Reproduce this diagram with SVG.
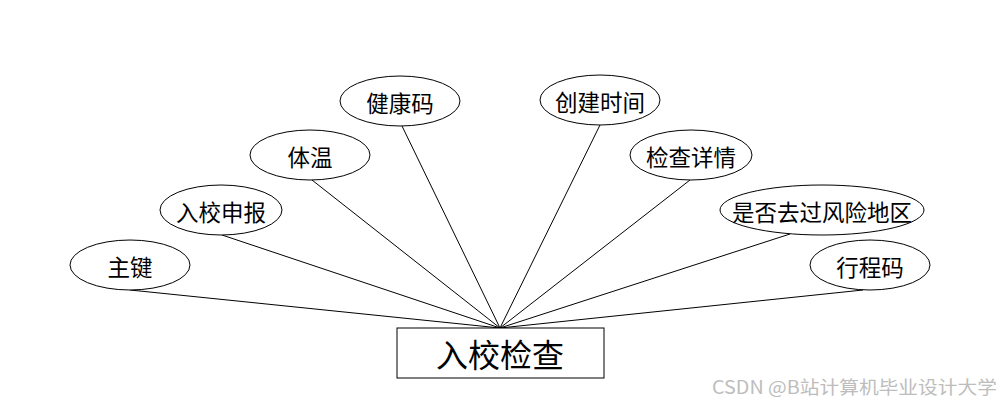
<svg xmlns="http://www.w3.org/2000/svg" width="1000" height="408" viewBox="0 0 1000 408">
<style>
.attr ellipse{fill:#fff;stroke:#000;stroke-width:1}
.t{font-family:"Noto Sans CJK SC","Noto Sans",sans-serif;font-size:22.5px;fill:#000;text-anchor:middle;dominant-baseline:central}
.conn line{stroke:#000;stroke-width:1}
</style>
<rect width="1000" height="408" fill="#fff"/>
<g class="conn" id="connectors">
<line x1="130" y1="290" x2="500" y2="328"/>
<line x1="222" y1="235" x2="500" y2="328"/>
<line x1="312" y1="180" x2="500" y2="328"/>
<line x1="402" y1="126" x2="500" y2="328"/>
<line x1="600" y1="125" x2="500" y2="328"/>
<line x1="690" y1="180" x2="500" y2="328"/>
<line x1="790" y1="234" x2="500" y2="328"/>
<line x1="863" y1="290" x2="500" y2="328"/>
</g>
<g class="attr" id="n-zhujian"><ellipse cx="130" cy="265" rx="60" ry="25"/><text class="t" x="130" y="266">主键</text></g>
<g class="attr" id="n-ruxiaoshenbao"><ellipse cx="221" cy="210" rx="61" ry="25"/><text class="t" x="221" y="211">入校申报</text></g>
<g class="attr" id="n-tiwen"><ellipse cx="310" cy="155" rx="60" ry="25"/><text class="t" x="310" y="156">体温</text></g>
<g class="attr" id="n-jiankangma"><ellipse cx="400" cy="101" rx="60" ry="25"/><text class="t" x="400" y="102">健康码</text></g>
<g class="attr" id="n-chuangjianshijian"><ellipse cx="600" cy="100" rx="60" ry="25"/><text class="t" x="600" y="101">创建时间</text></g>
<g class="attr" id="n-jianchaxiangqing"><ellipse cx="691" cy="155" rx="61" ry="25"/><text class="t" x="691" y="156">检查详情</text></g>
<g class="attr" id="n-fengxian"><ellipse cx="822" cy="210" rx="102" ry="25"/><text class="t" x="822" y="211">是否去过风险地区</text></g>
<g class="attr" id="n-xingchengma"><ellipse cx="870" cy="265" rx="60" ry="25"/><text class="t" x="870" y="266">行程码</text></g>
<g id="entity">
<rect x="397" y="328" width="207" height="50" fill="#fff" stroke="#000" stroke-width="1"/>
<text class="t" x="500" y="353" style="font-size:32px">入校检查</text>
</g>
<text x="712" y="394" textLength="285" lengthAdjust="spacingAndGlyphs" style="font-family:'Noto Sans CJK SC','Noto Sans',sans-serif;font-size:18px;fill:#bdbdbd">CSDN @B站计算机毕业设计大学</text>
</svg>
